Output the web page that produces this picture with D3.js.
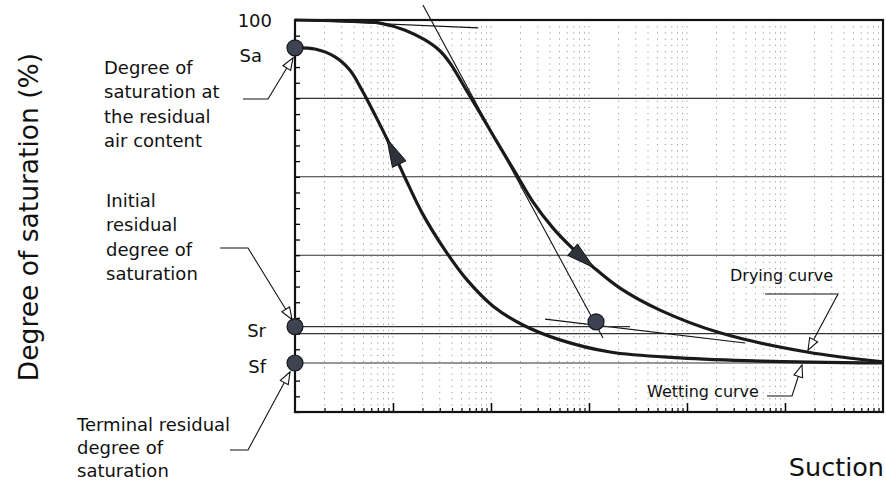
<!DOCTYPE html>
<meta charset="utf-8">
<body style="margin:0;background:#fff">
<script src="https://d3js.org/d3.v7.min.js"></script>
<script>
var width = 886, height = 483;
var margin = {left: 295, right: 2, top: 20, bottom: 71};

// drying curve: suction vs degree of saturation (%)
var dryingSuction = [1, 3.64, 7.37, 13.3, 21.2, 30.2, 38.2, 54.3, 77.2, 115, 176, 268, 430, 687, 1100, 2070, 5300, 21700, 167500, 1e6];
var dryingSat     = [100, 99.7, 99.2, 97.4, 94.9, 92.1, 89.0, 82.7, 76.3, 68.9, 61.2, 53.6, 46.9, 41.6, 37.0, 31.6, 26.0, 20.2, 15.3, 12.8];
// wetting curve
var wettingSuction = [1, 1.6, 2.56, 3.64, 4.83, 6.55, 9.31, 13.3, 19.8, 33.9, 56.9, 105, 212, 506, 1640, 8490, 55600, 1e6];
var wettingSat     = [92.9, 92.6, 90.6, 87.2, 82.1, 75.8, 68.1, 59.7, 50.8, 41.3, 33.7, 27.0, 22.2, 18.4, 15.3, 13.8, 13.0, 12.5];

// characteristic values
var Sa = 92.9, Sr = 21.8, Sf = 12.5;
var residualPoint = [1180, 23];
// construction lines [suction, sat] pairs
var topTangent = [[1, 100], [74, 98]];
var steepTangent = [[20.2, 103.8], [1390, 18.9]];
var flatTangent = [[356, 23.7], [39100, 17.6]];
var srLine = [[1, Sr], [2620, Sr]];

var gridY = [20, 40, 60, 80];
var yTickValues = d3.range(0, 101, 4);

var noteSa = ["Degree of", "saturation at", "the residual", "air content"];
var noteSr = ["Initial", "residual", "degree of", "saturation"];
var noteSf = ["Terminal residual", "degree of", "saturation"];

var svg = d3.select("body").append("svg")
    .attr("width", width)
    .attr("height", height)
    .style("font-family", "'DejaVu Sans', Verdana, sans-serif");

svg.append("rect").attr("width", width).attr("height", height).attr("fill", "#fff");

var x = d3.scaleLog()
    .domain([1, 1e6])
    .range([margin.left, width - margin.right - 1]);
var y = d3.scaleLinear()
    .domain([0, 100])
    .range([height - margin.bottom, margin.top]);

var x0 = x.range()[0], x1 = x.range()[1];
var y0 = y.range()[0], y1 = y.range()[1];

// vertical dotted grid (every log minor step)
var minor = [];
for (var e = 0; e < 6; e++) for (var m = 1; m < 10; m++) minor.push(m * Math.pow(10, e));
svg.append("g").selectAll("line")
  .data(minor.filter(function(d) { return d > 1; }))
  .enter().append("line")
    .attr("x1", function(d) { return x(d); })
    .attr("x2", function(d) { return x(d); })
    .attr("y1", y1).attr("y2", y0)
    .attr("stroke", "#9a9a9a")
    .attr("stroke-width", 1)
    .attr("stroke-dasharray", "1.2,5");

// horizontal grid
svg.append("g").selectAll("line")
  .data(gridY.concat([Sf]))
  .enter().append("line")
    .attr("x1", x0).attr("x2", x1)
    .attr("y1", function(d) { return y(d); })
    .attr("y2", function(d) { return y(d); })
    .attr("stroke", "#333")
    .attr("stroke-width", 1.1);

// ticks
svg.append("g")
    .attr("transform", "translate(" + x0 + ",0)")
    .call(d3.axisRight(y).tickValues(yTickValues).tickSize(5).tickFormat(""))
    .call(function(g) { g.select(".domain").remove(); g.selectAll("line").attr("stroke-width", 1.3); });
svg.append("g")
    .attr("transform", "translate(0," + y0 + ")")
    .call(d3.axisTop(x).tickValues(minor.filter(function(d, i) { return i % 9 != 0; })).tickSize(4).tickFormat(""))
    .call(function(g) { g.select(".domain").remove(); g.selectAll("line").attr("stroke-width", 1.2); });
svg.append("g")
    .attr("transform", "translate(0," + y0 + ")")
    .call(d3.axisTop(x).tickValues([10, 100, 1000, 1e4, 1e5]).tickSize(9).tickFormat(""))
    .call(function(g) { g.select(".domain").remove(); g.selectAll("line").attr("stroke-width", 1.5); });

// frame
svg.append("rect")
    .attr("x", x0).attr("y", y1)
    .attr("width", x1 - x0).attr("height", y0 - y1)
    .attr("fill", "none").attr("stroke", "#111").attr("stroke-width", 2.2);

// construction lines
var seg = d3.line().x(function(d) { return x(d[0]); }).y(function(d) { return y(d[1]); });
[topTangent, steepTangent, flatTangent].forEach(function(l) {
  svg.append("path").attr("d", seg(l)).attr("stroke", "#111").attr("stroke-width", 1.1).attr("fill", "none");
});
svg.append("path").attr("d", seg(srLine)).attr("stroke", "#333").attr("stroke-width", 1.3).attr("fill", "none");

// curves
var curve = d3.line()
    .x(function(d) { return x(d[0]); })
    .y(function(d) { return y(d[1]); })
    .curve(d3.curveCatmullRom.alpha(0.5));
var drying = svg.append("path")
    .attr("d", curve(d3.zip(dryingSuction, dryingSat)))
    .attr("fill", "none").attr("stroke", "#1a1a1a").attr("stroke-width", 3.2);
var wetting = svg.append("path")
    .attr("d", curve(d3.zip(wettingSuction, wettingSat)))
    .attr("fill", "none").attr("stroke", "#1a1a1a").attr("stroke-width", 3.2);

function atX(node, px) {
  var lo = 0, hi = node.getTotalLength();
  for (var i = 0; i < 40; i++) {
    var mid = (lo + hi) / 2;
    if (node.getPointAtLength(mid).x < px) lo = mid; else hi = mid;
  }
  return lo;
}
function curveArrow(node, px, back, L, w) {
  var l = atX(node, px);
  var p = node.getPointAtLength(l);
  var q = node.getPointAtLength(back ? l + 4 : l - 4);
  var dx = p.x - q.x, dy = p.y - q.y, n = Math.sqrt(dx * dx + dy * dy);
  dx /= n; dy /= n;
  var bx = p.x - dx * L, by = p.y - dy * L;
  svg.append("path")
    .attr("d", "M" + p.x + "," + p.y + "L" + (bx - dy * w) + "," + (by + dx * w) +
               "L" + (bx + dy * w) + "," + (by - dx * w) + "Z")
    .attr("fill", "#2e333b").attr("stroke", "#111").attr("stroke-width", 1);
}
curveArrow(wetting.node(), 387, true, 28, 7.5);
curveArrow(drying.node(), 594, false, 28, 7.5);

// points
svg.append("g").selectAll("circle")
  .data([[1, Sa], [1, Sr], [1, Sf], residualPoint])
  .enter().append("circle")
    .attr("cx", function(d) { return x(d[0]); })
    .attr("cy", function(d) { return y(d[1]); })
    .attr("r", 8)
    .attr("fill", "#3d4350").attr("stroke", "#15171b").attr("stroke-width", 1.2);

// leader lines with open arrowheads
function leader(pts) {
  svg.append("path")
    .attr("d", d3.line()(pts))
    .attr("fill", "none").attr("stroke", "#111").attr("stroke-width", 1.1);
  var p = pts[pts.length - 1], q = pts[pts.length - 2];
  var dx = p[0] - q[0], dy = p[1] - q[1], n = Math.sqrt(dx * dx + dy * dy);
  dx /= n; dy /= n;
  var L = 12, w = 4.5, bx = p[0] - dx * L, by = p[1] - dy * L;
  svg.append("path")
    .attr("d", "M" + p[0] + "," + p[1] + "L" + (bx - dy * w) + "," + (by + dx * w) +
               "L" + (bx + dy * w) + "," + (by - dx * w) + "Z")
    .attr("fill", "#fff").attr("stroke", "#111").attr("stroke-width", 1.1);
}
leader([[243, 99], [268, 99], [x0 - 2, y(Sa) + 10]]);
leader([[220, 248], [248, 248], [x0 - 3, y(Sr) - 7]]);
leader([[230, 450], [248, 450], [x0 - 5, y(Sf) + 9]]);
var dl = drying.node().getPointAtLength(atX(drying.node(), 808));
leader([[765, 294], [838, 294], [dl.x, dl.y - 2]]);
leader([[767, 396], [792, 396], [802, y(Sf) + 2]]);

// text
function note(lines, tx, ty, size, gap) {
  svg.append("text")
    .attr("x", tx).attr("y", ty)
    .attr("font-size", size).attr("fill", "#111")
    .selectAll("tspan").data(lines).enter().append("tspan")
      .attr("x", tx)
      .attr("dy", function(d, i) { return i ? gap : 0; })
      .text(function(d) { return d; });
}
note(noteSa, 104, 74, 18, 24.3);
note(noteSr, 106, 207, 18, 24.3);
note(noteSf, 77, 431, 18, 23.2);
note(["Drying curve"], 730, 281, 16, 0);
note(["Wetting curve"], 647, 397, 16, 0);

svg.append("text").attr("x", 272).attr("y", y(100) + 7).attr("text-anchor", "end")
    .attr("font-size", 18).attr("fill", "#111").text("100");
svg.append("text").attr("x", 262).attr("y", y(Sa) + 14).attr("text-anchor", "end")
    .attr("font-size", 18).attr("fill", "#111").text("Sa");
svg.append("text").attr("x", 266).attr("y", y(Sr) + 10).attr("text-anchor", "end")
    .attr("font-size", 18).attr("fill", "#111").text("Sr");
svg.append("text").attr("x", 266).attr("y", y(Sf) + 10).attr("text-anchor", "end")
    .attr("font-size", 18).attr("fill", "#111").text("Sf");

svg.append("text")
    .attr("transform", "translate(38,217) rotate(-90)")
    .attr("text-anchor", "middle")
    .attr("font-size", 26.5).attr("fill", "#111")
    .text("Degree of saturation (%)");
svg.append("text")
    .attr("x", 884).attr("y", 476).attr("text-anchor", "end")
    .attr("font-size", 25.5).attr("fill", "#111")
    .text("Suction");
</script>
</body>
</html>
